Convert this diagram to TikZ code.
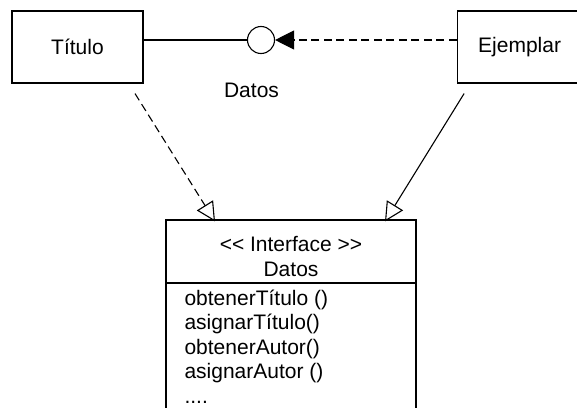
\documentclass[tikz,border=0pt]{standalone}
\usepackage{fontspec}
\setmainfont{Liberation Sans}
\usetikzlibrary{positioning,arrows.meta}

\begin{document}
\begin{tikzpicture}[x=1pt, y=-1pt, line width=1.1pt, node distance=313pt,
    font=\fontsize{21}{25}\selectfont,
    clase/.style={draw, minimum width=131pt, minimum height=72pt, inner sep=0pt},
    metodo/.style={anchor=base west, inner sep=0pt},
    realiza/.style={-{Triangle[open, length=19pt, width=19pt]}},
    punteada/.style={dash pattern=on 8pt off 4.5pt}]

    \clip (0,0) rectangle (577,407);

    % Nodes
    \node (titulo) [clase] at (77.5,47) {Título};
    \node[right=of titulo] (ejemplar) [clase, minimum width=120pt] {\hspace{5pt}Ejemplar};
    \node (datos) [circle, draw, minimum size=27pt, inner sep=0pt] at (261,40) {};
    \node (datoslbl) at (251.5,90) {Datos};

    % Interface
    \node (interfaz) [draw, minimum width=250pt, minimum height=200pt] at (291,320) {};
    \draw (interfaz.west |- 0,283) -- (interfaz.east |- 0,283);
    \node[anchor=base] (estereotipo) at (291,251.5) {{<}{<} Interface {>}{>}};
    \node[anchor=base] (nombre) at (291,276.5) {Datos};
    \node[metodo] (m1) at (184,305) {obtenerTítulo ()};
    \node[metodo] (m2) at (184,329.5) {asignarTítulo()};
    \node[metodo] (m3) at (184,354) {obtenerAutor()};
    \node[metodo] (m4) at (184,378.5) {asignarAutor ()};
    \node[metodo] (m5) at (184,403) {....};

    % Connectors
    \draw (titulo.east |- datos.west) -- (datos.west);
    \draw[punteada, -{Triangle[length=19pt, width=19pt]}] (ejemplar.west |- datos.east) -- (datos.east);
    \draw[realiza, punteada] ([xshift=57.5pt, yshift=-10pt]titulo.south) -- ([xshift=-76pt, yshift=-2pt]interfaz.north);
    \draw[realiza] ([xshift=-53pt, yshift=-10pt]ejemplar.south) -- ([xshift=94pt, yshift=-2pt]interfaz.north);

\end{tikzpicture}
\end{document}
